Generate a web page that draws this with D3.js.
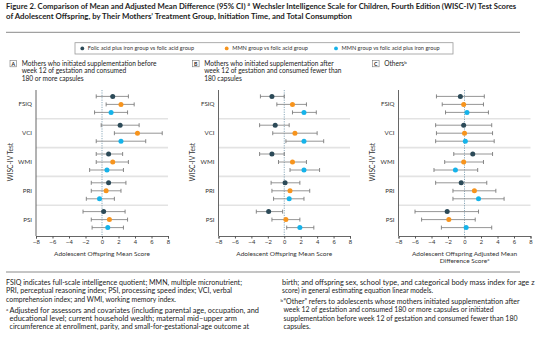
<!DOCTYPE html>
<html>
<head>
<meta charset="utf-8">
<script src="https://cdn.jsdelivr.net/npm/d3@7"></script>
<style>
  body { margin: 0; background: #fff; }
  svg { font-family: Lato, "Open Sans", sans-serif; }
  .tick text { font-size: 6px; fill: #333; }
  .foot { font-size: 6.6px; fill: #222; }
  .title { font-size: 8.2px; font-weight: 700; fill: #1d1d1d; }
</style>
</head>
<body>
<script>
const tests = ["FSIQ", "VCI", "WMI", "PRI", "PSI"];
const series = ["fai", "mmnFa", "mmnFai"];
const seriesLabels = [
  "Folic acid plus iron group vs folic acid group",
  "MMN group vs folic acid group",
  "MMN group vs folic acid plus iron group",
];
const seriesColors = ["#2c4a58", "#f7941d", "#15b3ea"];
const xTicks = [-8, -6, -4, -2, 0, 2, 4, 6, 8];

// [estimate, lower, upper] per test, one array per comparison
const panelA = {
  fai: [[1.3, -0.7, 3.2], [2.2, -0.1, 4.5], [0.8, -0.7, 2.5], [0.8, -1.3, 2.9], [0.2, -2.3, 2.8]],
  mmnFa: [[2.3, 0.5, 3.9], [4.3, 1.5, 7.3], [1.3, -0.7, 3.2], [0.5, -1.3, 2.3], [0.9, -1.3, 3.1]],
  mmnFai: [[1.1, -0.9, 3.1], [2.3, -0.7, 5.3], [0.6, -1.5, 2.6], [-0.3, -1.9, 1.5], [0.7, -1.2, 2.6]],
};
const panelB = {
  fai: [[-1.5, -2.9, 0.0], [-1.1, -3.0, 0.6], [-1.5, -3.0, 0.0], [0.1, -1.6, 1.9], [-1.9, -3.4, -0.2]],
  mmnFa: [[1.0, -0.9, 2.7], [1.3, -1.4, 4.0], [1.0, -0.7, 2.7], [0.7, -1.5, 3.1], [0.2, -1.5, 1.9]],
  mmnFai: [[2.4, 1.0, 3.9], [2.4, 0.2, 4.8], [2.4, 0.7, 4.3], [0.6, -1.3, 2.4], [1.9, 0.3, 3.6]],
};
const panelC = {
  fai: [[-0.5, -3.4, 2.4], [-0.1, -3.5, 3.3], [1.0, -1.3, 3.4], [-0.4, -3.5, 2.7], [-2.1, -6.0, 1.7]],
  mmnFa: [[-0.1, -2.7, 2.3], [0.0, -3.4, 3.4], [-0.1, -2.4, 2.3], [1.2, -1.4, 3.8], [-1.9, -5.2, 1.3]],
  mmnFai: [[0.3, -2.3, 2.9], [0.1, -3.5, 3.6], [-1.1, -3.7, 1.6], [1.7, -1.4, 4.8], [0.2, -2.8, 3.3]],
};

const titleLines = [
  "Figure 2. Comparison of Mean and Adjusted Mean Difference (95% CI)",
  "Wechsler Intelligence Scale for Children, Fourth Edition (WISC-IV) Test Scores",
  "of Adolescent Offspring, by Their Mothers\u2019 Treatment Group, Initiation Time, and Total Consumption",
];

// footnote lines with the width each one takes in the figure
const footLeft = [
  ["FSIQ indicates full-scale intelligence quotient; MMN, multiple micronutrient;", 236],
  ["PRI, perceptual reasoning index; PSI, processing speed index; VCI, verbal", 226],
  ["comprehension index; and WMI, working memory index.", 170],
];
const footA = [
  ["Adjusted for assessors and covariates (including parental age, occupation, and", 249.5],
  ["educational level; current household wealth; maternal mid\u2013upper arm", 227.5],
  ["circumference at enrollment, parity, and small-for-gestational-age outcome at", 239.5],
];
const footRight = [
  ["birth; and offspring sex, school type, and categorical body mass index for age z", 252.5],
  ["score) in general estimating equation linear models.", 151],
];
const footB = [
  ["\u201cOther\u201d refers to adolescents whose mothers initiated supplementation after", 236],
  ["week 12 of gestation and consumed 180 or more capsules or initiated", 210],
  ["supplementation before week 12 of gestation and consumed fewer than 180", 234],
  ["capsules.", 27],
];

const canvas = { width: 536, height: 346, top: 90, bottom: 234 };

const panels = [
  { key: "A", data: panelA, x0: 36, x1: 168,
    text: ["Mothers who initiated supplementation before", "week 12 of gestation and consumed", "180 or more capsules"],
    xTitle: ["Adolescent Offspring Mean Score"] },
  { key: "B", data: panelB, x0: 218.5, x1: 350,
    text: ["Mothers who initiated supplementation after", "week 12 of gestation and consumed fewer than", "180 capsules"],
    xTitle: ["Adolescent Offspring Mean Score"] },
  { key: "C", data: panelC, x0: 398.5, x1: 530.5,
    text: ["Others"], sup: "b",
    xTitle: ["Adolescent Offspring Adjusted Mean", "Difference Score"], titleSup: "a" },
];

const svg = d3.select("body").append("svg")
  .attr("width", canvas.width)
  .attr("height", canvas.height);

// title
const titlePart = (x, y, w, t) =>
  svg.append("text").attr("class", "title")
    .attr("x", x).attr("y", y)
    .attr("textLength", w).attr("lengthAdjust", "spacingAndGlyphs")
    .text(t);
titlePart(6, 9, 239.5, titleLines[0]);
svg.append("text").attr("class", "title")
  .attr("x", 247.6).attr("y", 6.3)
  .style("font-size", "4.8px").text("a");
titlePart(252.6, 9, 263.6, titleLines[1]);
titlePart(6, 18.6, 346, titleLines[2]);

svg.append("line")
  .attr("x1", 6).attr("x2", 520).attr("y1", 32.3).attr("y2", 32.3)
  .attr("stroke", "#8a8a8a").attr("stroke-width", 1);

// legend
svg.append("rect")
  .attr("x", 75).attr("y", 42.7).attr("width", 378).attr("height", 11.3)
  .attr("fill", "none").attr("stroke", "#9a9a9a").attr("stroke-width", 0.8);
const legendX = [82.3, 226.7, 336];
const legend = svg.selectAll(".legend").data(series).enter().append("g")
  .attr("transform", (d, i) => `translate(${legendX[i]},48.4)`);
legend.append("circle").attr("r", 1.9).attr("fill", (d, i) => seriesColors[i]);
legend.append("text")
  .attr("x", 5.5).attr("y", 2)
  .style("font-size", "5.6px").style("fill", "#333")
  .text((d, i) => seriesLabels[i]);

const yBand = d3.scaleBand().domain(tests).range([canvas.top, canvas.bottom]);
const yRow = d3.scalePoint().domain(series).range([0, yBand.bandwidth()]).padding(0.8);

const drawPanel = (p) => {
  const xScale = d3.scaleLinear().domain([-8, 8]).range([p.x0, p.x1]);
  const g = svg.append("g");

  // panel letter + description
  g.append("rect")
    .attr("x", p.x0 - 26).attr("y", 60.6).attr("width", 6.6).attr("height", 6.2)
    .attr("fill", "#fff").attr("stroke", "#777").attr("stroke-width", 0.6);
  g.append("text")
    .attr("x", p.x0 - 22.7).attr("y", 65.8)
    .attr("text-anchor", "middle")
    .style("font-size", "5.2px").style("font-weight", 700).style("fill", "#222")
    .text(p.key);
  p.text.forEach((t, i) => {
    const txt = g.append("text")
      .attr("x", p.x0 - 14.3).attr("y", 65.9 + i * 7.3)
      .style("font-size", "6.6px").style("fill", "#222")
      .text(t);
    if (p.sup) {
      txt.append("tspan").attr("dy", -2).style("font-size", "4.4px").text(p.sup);
    }
  });

  // group separators
  g.selectAll(".sep").data(tests.slice(1)).enter().append("line")
    .attr("x1", p.x0).attr("x2", p.x1)
    .attr("y1", (d) => yBand(d)).attr("y2", (d) => yBand(d))
    .attr("stroke", "#e3e3e3").attr("stroke-width", 1.6);

  // zero reference
  g.append("line")
    .attr("x1", xScale(0)).attr("x2", xScale(0))
    .attr("y1", canvas.top).attr("y2", canvas.bottom + 2)
    .attr("stroke", "#6f94aa").attr("stroke-width", 0.8)
    .attr("stroke-dasharray", "1.2,1.2");

  // axes
  const xAxis = g.append("g")
    .attr("transform", `translate(0,${canvas.bottom + 2})`)
    .call(d3.axisBottom(xScale).tickValues(xTicks).tickSize(2.5).tickPadding(1.5)
      .tickFormat((d) => (d < 0 ? "\u2212" + Math.abs(d) : d)));
  xAxis.select(".domain").attr("stroke", "#555").attr("stroke-width", 0.9);
  xAxis.selectAll(".tick line").attr("stroke", "#555");

  g.append("line")
    .attr("x1", p.x0).attr("x2", p.x0)
    .attr("y1", canvas.top).attr("y2", canvas.bottom + 2)
    .attr("stroke", "#555").attr("stroke-width", 0.9);

  g.selectAll(".cat").data(tests).enter().append("text")
    .attr("x", p.x0 - 4).attr("y", (d) => yBand(d) + yBand.bandwidth() / 2 + 2)
    .attr("text-anchor", "end")
    .style("font-size", "6.2px").style("fill", "#333")
    .text((d) => d);

  g.append("text")
    .attr("transform", `translate(${p.x0 - 23.5},${(canvas.top + canvas.bottom) / 2}) rotate(-90)`)
    .attr("text-anchor", "middle")
    .style("font-size", "6.6px").style("fill", "#333")
    .text("WISC-IV Test");

  p.xTitle.forEach((t, i) => {
    const txt = g.append("text")
      .attr("x", (p.x0 + p.x1) / 2).attr("y", 255.6 + i * 7.6)
      .attr("text-anchor", "middle")
      .style("font-size", "6.5px").style("fill", "#333")
      .text(t);
    if (p.titleSup && i === p.xTitle.length - 1) {
      txt.append("tspan").attr("dy", -2).style("font-size", "4.2px").text(p.titleSup);
    }
  });

  // error bars and points
  series.forEach((s, si) => {
    const rows = p.data[s];
    const sg = g.append("g");
    const y = (d, i) => yBand(tests[i]) + yRow(s);
    sg.selectAll(".ci").data(rows).enter().append("line")
      .attr("x1", (d) => xScale(d[1])).attr("x2", (d) => xScale(d[2]))
      .attr("y1", y).attr("y2", y)
      .attr("stroke", "#8a8a8a").attr("stroke-width", 0.9);
    [1, 2].forEach((k) => {
      sg.selectAll(".cap" + k).data(rows).enter().append("line")
        .attr("x1", (d) => xScale(d[k])).attr("x2", (d) => xScale(d[k]))
        .attr("y1", (d, i) => y(d, i) - 2).attr("y2", (d, i) => y(d, i) + 2)
        .attr("stroke", "#7a7a7a").attr("stroke-width", 0.9);
    });
    sg.selectAll("circle").data(rows).enter().append("circle")
      .attr("cx", (d) => xScale(d[0])).attr("cy", y)
      .attr("r", 2.5)
      .attr("fill", seriesColors[si]);
  });
};

panels.forEach(drawPanel);

svg.append("line")
  .attr("x1", 6).attr("x2", 520).attr("y1", 272).attr("y2", 272)
  .attr("stroke", "#8a8a8a").attr("stroke-width", 1);

// footnotes
const footLine = (x, y, d) =>
  svg.append("text").attr("class", "foot")
    .attr("x", x).attr("y", y)
    .attr("textLength", d[1]).attr("lengthAdjust", "spacingAndGlyphs")
    .text(d[0]);

footLeft.forEach((d, i) => footLine(6, 285 + i * 8.4, d));
svg.append("text").attr("class", "foot").attr("x", 6).attr("y", 310.6)
  .style("font-size", "4.4px").text("a");
footA.forEach((d, i) => footLine(9.5, 312.5 + i * 8.4, d));
footRight.forEach((d, i) => footLine(282, 285 + i * 8.4, d));
svg.append("text").attr("class", "foot").attr("x", 280.5).attr("y", 301.8)
  .style("font-size", "4.4px").text("b");
footB.forEach((d, i) => footLine(283.5, 303.7 + i * 8.4, d));
</script>
</body>
</html>
